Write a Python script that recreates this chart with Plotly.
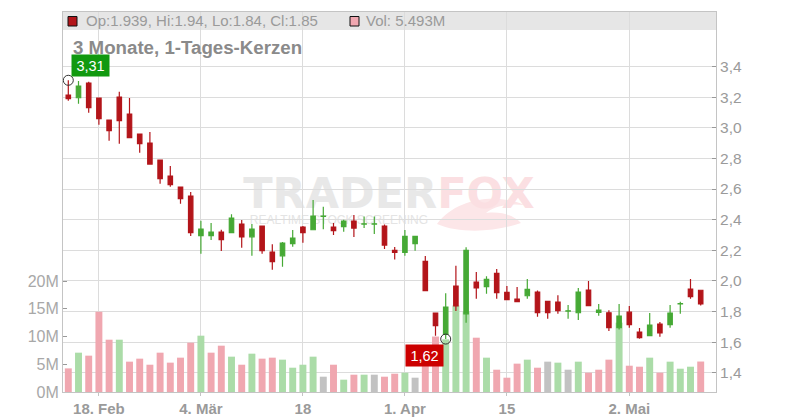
import plotly.graph_objects as go

# ---- data ----
tick_idx = [3, 13, 23, 33, 43, 55]
tick_labels = ["18. Feb", "4. Mär", "18", "1. Apr", "15", "2. Mai"]

opens = [3.214, 3.196, 3.292, 3.194, 3.050, 3.201, 3.090, 2.959, 2.900, 2.789,
         2.685, 2.613, 2.554, 2.295, 2.295, 2.319, 2.315, 2.371, 2.288, 2.358,
         2.188, 2.164, 2.243, 2.352, 2.334, 2.421, 2.352, 2.354, 2.391, 2.371,
         2.371, 2.358, 2.199, 2.186, 2.243, 2.127, 1.790, 1.650, 1.966, 1.785,
         1.992, 1.962, 2.049, 1.925, 1.881, 1.903, 1.927, 1.866, 1.862, 1.803,
         1.792, 1.940, 1.794, 1.792, 1.694, 1.796, 1.666, 1.642, 1.718, 1.714,
         1.849, 1.947, 1.939]
highs = [3.310, 3.305, 3.301, 3.197, 3.053, 3.235, 3.194, 2.962, 2.972, 2.792,
         2.750, 2.616, 2.580, 2.393, 2.378, 2.334, 2.436, 2.397, 2.371, 2.360,
         2.240, 2.254, 2.332, 2.358, 2.528, 2.484, 2.378, 2.399, 2.430, 2.421,
         2.421, 2.369, 2.221, 2.332, 2.293, 2.162, 1.792, 1.920, 2.099, 2.219,
         2.058, 2.031, 2.077, 1.966, 1.960, 2.012, 1.938, 1.868, 1.907, 1.842,
         1.953, 1.999, 1.849, 1.809, 1.849, 1.836, 1.692, 1.790, 1.731, 1.842,
         1.864, 2.012, 1.940]
lows = [3.177, 3.157, 3.098, 3.020, 2.915, 2.896, 2.935, 2.837, 2.759, 2.635,
        2.615, 2.504, 2.293, 2.177, 2.267, 2.195, 2.315, 2.217, 2.164, 2.177,
        2.073, 2.092, 2.223, 2.249, 2.334, 2.338, 2.299, 2.321, 2.286, 2.345,
        2.306, 2.208, 2.140, 2.164, 2.197, 1.936, 1.642, 1.620, 1.803, 1.727,
        1.883, 1.916, 1.883, 1.877, 1.864, 1.883, 1.766, 1.753, 1.785, 1.753,
        1.744, 1.838, 1.772, 1.672, 1.683, 1.694, 1.622, 1.642, 1.635, 1.694,
        1.785, 1.883, 1.840]
closes = [3.190, 3.272, 3.131, 3.059, 2.981, 3.046, 2.935, 2.896, 2.763, 2.667,
          2.628, 2.537, 2.315, 2.338, 2.319, 2.269, 2.410, 2.288, 2.338, 2.197,
          2.125, 2.247, 2.280, 2.315, 2.423, 2.423, 2.328, 2.391, 2.345, 2.373,
          2.373, 2.234, 2.186, 2.291, 2.291, 1.936, 1.707, 1.829, 1.836, 2.199,
          1.955, 2.010, 1.923, 1.877, 1.864, 1.944, 1.792, 1.792, 1.805, 1.805,
          1.927, 1.838, 1.809, 1.694, 1.770, 1.714, 1.630, 1.711, 1.661, 1.790,
          1.851, 1.897, 1.850]
volumes_m = [4.26, 7.09, 6.55, 14.47, 9.43, 9.43, 5.47, 6.01, 4.92, 7.09,
             5.29, 6.19, 8.89, 10.15, 7.09, 8.35, 6.37, 4.92, 6.91, 6.01,
             6.19, 5.83, 4.38, 4.92, 6.37, 2.76, 4.92, 2.22, 3.12, 3.12,
             3.12, 2.76, 3.30, 3.48, 2.58, 8.0, 10.0, 9.5, 15.6, 14.5,
             9.79, 6.19, 4.02, 2.58, 5.11, 5.83, 4.38, 5.47, 5.29, 4.02,
             5.47, 3.48, 4.02, 5.83, 12.5, 4.74, 4.56, 6.19, 3.48, 5.47,
             4.20, 4.56, 5.493]
vol_ticks_m = [0, 5, 10, 15, 20]
price_ticks = [1.4, 1.6, 1.8, 2.0, 2.2, 2.4, 2.6, 2.8, 3.0, 3.2, 3.4]

# ---- styles ----
RED = "#b3151a"
GREEN = "#46a935"
VOL_RED = "#f0a7b0"
VOL_GREEN = "#abdca8"
VOL_GRAY = "#c2c2c2"
GRID = "#dcdcdc"
AXIS = "#c4c4c4"
TXT = "#9a9a9a"
FONT = "Liberation Sans, Arial, sans-serif"

n = len(closes)
x = list(range(n))
vol = [v * 1e6 for v in volumes_m]
vol_colors = []
for i in range(n):
    if i == 0:
        vol_colors.append(VOL_RED)
    elif closes[i] > closes[i - 1]:
        vol_colors.append(VOL_GREEN)
    elif closes[i] < closes[i - 1]:
        vol_colors.append(VOL_RED)
    else:
        vol_colors.append(VOL_GRAY)

fig = go.Figure()
fig.add_trace(go.Bar(x=x, y=vol, marker=dict(color=vol_colors, line=dict(width=0)),
                     width=0.68, yaxis="y", hoverinfo="skip"))
fig.add_trace(go.Candlestick(
    x=x, open=opens, high=highs, low=lows, close=closes, yaxis="y2",
    increasing=dict(line=dict(color=GREEN, width=1.2), fillcolor=GREEN),
    decreasing=dict(line=dict(color=RED, width=1.2), fillcolor=RED),
    whiskerwidth=0))

# extreme markers
hi_i = highs.index(max(highs))
lo_i = lows.index(min(lows))
fig.add_trace(go.Scatter(x=[hi_i, lo_i], y=[highs[hi_i], lows[lo_i]], yaxis="y2",
                         mode="markers",
                         marker=dict(symbol="circle-open", size=10, color="#333",
                                     line=dict(width=1, color="#333"))))

# page has an 8px body margin; figure coordinates are page - 8
OFF = 8
W, H = 792, 412
L, R, T, B = 55, 84, 4, 28
pw, ph = W - L - R, H - T - B


def px(xp):  # page x -> paper
    return (xp - OFF - L) / pw


def py(yp):  # page y -> paper
    return (H - B - (yp - OFF)) / ph


def pt(xp, yp):
    return f"{px(xp):.4f},{py(yp):.4f}"


swirl = ("M " + pt(437, 224) + " C " + pt(458, 196) + " " + pt(500, 194) + " " + pt(524, 205)
         + " C " + pt(506, 203) + " " + pt(493, 207) + " " + pt(486, 213)
         + " C " + pt(501, 211) + " " + pt(513, 215) + " " + pt(521, 223)
         + " C " + pt(496, 232) + " " + pt(460, 234) + " " + pt(437, 224) + " Z")

shapes = [
    # header band
    dict(type="rect", xref="paper", yref="paper", x0=0, x1=1, y0=py(30), y1=1,
         fillcolor="#e6e6e6", line=dict(width=0), layer="below"),
    # legend squares
    dict(type="rect", xref="paper", yref="paper", x0=px(68), x1=px(77), y0=py(26), y1=py(16.5),
         fillcolor=RED, line=dict(width=1, color="#111"), layer="above"),
    dict(type="rect", xref="paper", yref="paper", x0=px(350), x1=px(359), y0=py(26), y1=py(16.5),
         fillcolor=VOL_RED, line=dict(width=1, color="#111"), layer="above"),
    # watermark
    dict(type="path", xref="paper", yref="paper", path=swirl, fillcolor="#fce6e8",
         line=dict(width=0), layer="below"),
    dict(type="rect", xref="paper", yref="paper", x0=px(234), x1=px(544), y0=py(207), y1=py(173),
         fillcolor="rgba(0,0,0,0)", line=dict(width=0), layer="below",
         label=dict(text="<b>TRADER<span style='color:#fbdfe2'>FOX</span></b>",
                    textposition="middle center",
                    font=dict(family="DejaVu Sans, sans-serif", size=43, color="#e8e8e8"))),
    dict(type="rect", xref="paper", yref="paper", x0=px(248), x1=px(430), y0=py(225), y1=py(213),
         fillcolor="rgba(0,0,0,0)", line=dict(width=0), layer="below",
         label=dict(text="REALTIME STOCK SCREENING", textposition="middle center",
                    font=dict(family=FONT, size=12, color="#e4e4e4"))),
]

annotations = [
    dict(xref="paper", yref="paper", x=px(84), y=py(21), xanchor="left", yanchor="middle",
         text="Op:1.939, Hi:1.94, Lo:1.84, Cl:1.85", showarrow=False,
         font=dict(family=FONT, size=15, color=TXT)),
    dict(xref="paper", yref="paper", x=px(364), y=py(21), xanchor="left", yanchor="middle",
         text="Vol: 5.493M", showarrow=False, font=dict(family=FONT, size=15, color=TXT)),
    dict(xref="paper", yref="paper", x=px(71), y=py(48), xanchor="left", yanchor="middle",
         text="<b>3 Monate, 1-Tages-Kerzen</b>", showarrow=False,
         font=dict(family=FONT, size=18.7, color="#8a8a8a")),
    dict(xref="x", yref="y2", x=hi_i, y=highs[hi_i], xanchor="left", yanchor="bottom",
         xshift=2.5, yshift=3.5, text="3,31", showarrow=False, bgcolor="#11990f",
         width=35, height=19, font=dict(family=FONT, size=14.5, color="white")),
    dict(xref="x", yref="y2", x=lo_i, y=lows[lo_i], xanchor="right", yanchor="top",
         xshift=-1.5, yshift=-4.5, text="1,62", showarrow=False, bgcolor="#cc0000",
         width=35, height=19, font=dict(family=FONT, size=14.5, color="white")),
]

fig.update_layout(
    width=W, height=H,
    margin=dict(l=L, r=R, t=T, b=B, autoexpand=False),
    paper_bgcolor="white", plot_bgcolor="white",
    showlegend=False, separators=",.",
    boxgap=0.38,
    shapes=shapes, annotations=annotations,
    xaxis=dict(range=[-0.52, 63.5], tickvals=tick_idx, ticktext=tick_labels,
               showgrid=True, gridcolor=GRID, gridwidth=1,
               showline=True, linecolor=AXIS, linewidth=1, mirror=True,
               ticks="outside", ticklen=3, tickcolor=AXIS, automargin=False,
               tickfont=dict(family=FONT, size=15, color=TXT, weight="bold"),
               rangeslider=dict(visible=False), zeroline=False, fixedrange=True),
    yaxis=dict(side="left", range=[0, 68.5e6], tickvals=[v * 1e6 for v in vol_ticks_m],
               ticktext=[f"{v}M" for v in vol_ticks_m], showgrid=False,
               showline=True, linecolor=AXIS, linewidth=1, automargin=False,
               ticks="inside", ticklen=4, tickcolor="#999",
               tickfont=dict(family=FONT, size=16, color="#a8a8a8"), zeroline=False),
    yaxis2=dict(side="right", overlaying="y", range=[1.2744, 3.756], tickvals=price_ticks,
                tickformat=".1f", showgrid=True, gridcolor=GRID, gridwidth=1,
                showline=True, linecolor=AXIS, linewidth=1, automargin=False,
                ticks="inside", ticklen=4, tickcolor="#999",
                tickfont=dict(family=FONT, size=15.5, color=TXT), zeroline=False),
)

fig.write_html("out.html")
